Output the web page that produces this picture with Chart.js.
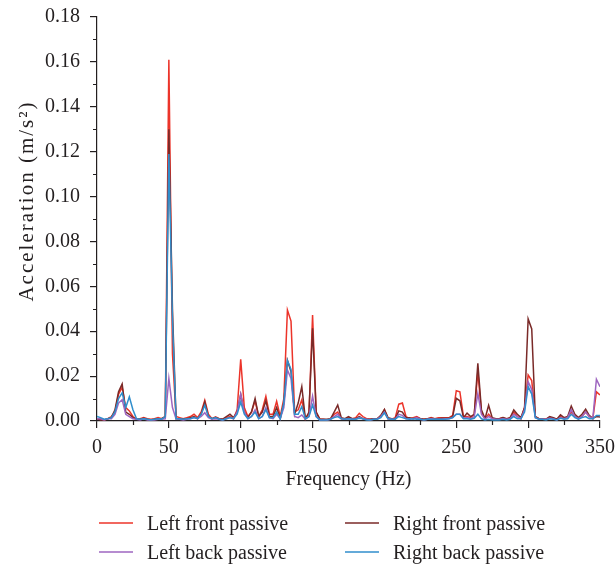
<!DOCTYPE html>
<html>
<head>
<meta charset="utf-8">
<script src="https://cdn.jsdelivr.net/npm/chart.js@4.4.1/dist/chart.umd.min.js"></script>
<style>
  body { margin: 0; background: #fff; }
  #wrap { position: relative; width: 616px; height: 569px; }
  #legend { position: absolute; left: 0; top: 0; width: 616px; height: 569px; pointer-events: none;
            font-family: 'Liberation Serif', serif; font-size: 20px; color: #231f20; }
  .item { position: absolute; white-space: nowrap; line-height: 24px; }
  .item span.line { position: absolute; top: 11px; width: 34px; height: 2px; opacity: 0.75; }
  .item span.txt { position: absolute; left: 48px; top: 0; }
</style>
</head>
<body>
<div id="wrap">
  <canvas id="grafica" width="616" height="569"></canvas>
  <div id="legend"></div>
</div>
<script>
// Espectro de aceleración, suspensión pasiva (4 ruedas)

// eje de frecuencia: paso de 2.5 Hz, 0 a 350 Hz
var frecuencias = Array.from({ length: 141 }, function (_, i) { return i * 2.5; });

var nombres = ['Left front passive', 'Right front passive', 'Left back passive', 'Right back passive'];

var leftFront = [
    .001, .001, .0005, .001, .002, .004, .012, .015, .006, .0045,
    .002, .0008, .001, .0015, .001, .0008, .001, .0015, .001, .002,
    .161, .030, .002, .0015, .001, .0015, .002, .003, .0015, .004,
    .0092, .003, .001, .0018, .001, .0008, .0015, .002, .001, .005,
    .0275, .006, .002, .004, .009, .002, .005, .011, .003, .003,
    .0088, .002, .010, .0495, .0445, .004, .005, .0094, .001, .003,
    .0472, .004, .0008, .0008, .0005, .001, .003, .004, .001, .0008,
    .0015, .001, .0015, .0034, .002, .001, .0008, .001, .001, .002,
    .005, .001, .0008, .0015, .0075, .008, .002, .001, .0015, .002,
    .001, .0008, .001, .0015, .001, .0015, .0015, .0015, .0015, .0025,
    .0135, .013, .002, .002, .0015, .003, .022, .004, .001, .003,
    .001, .0008, .001, .0015, .0008, .0015, .004, .002, .001, .006,
    .0205, .018, .002, .001, .001, .0008, .0015, .0012, .0008, .002,
    .0012, .0015, .004, .002, .001, .002, .004, .002, .001, .013,
    .0116
];

var rightFront = [
    .001, .0005, .0005, .001, .0015, .005, .013, .0165, .004, .003,
    .0015, .0008, .0008, .0012, .0008, .0005, .0008, .001, .001, .002,
    .130, .050, .001, .001, .0008, .001, .0015, .002, .001, .003,
    .0085, .002, .001, .0015, .001, .0008, .002, .003, .0015, .004,
    .0118, .004, .0015, .004, .010, .002, .004, .009, .002, .002,
    .006, .001, .008, .027, .022, .003, .008, .0153, .001, .004,
    .0413, .004, .0008, .0008, .0008, .001, .004, .0071, .0015, .001,
    .002, .001, .001, .002, .001, .0008, .0008, .001, .001, .0025,
    .0052, .0015, .001, .001, .0045, .004, .0015, .0015, .001, .0015,
    .001, .0008, .001, .0012, .001, .001, .0012, .0012, .0012, .002,
    .0101, .009, .0015, .0035, .002, .003, .0257, .005, .001, .007,
    .0015, .001, .001, .0015, .001, .0015, .0049, .003, .0015, .006,
    .0455, .041, .002, .001, .0008, .0008, .002, .0015, .0008, .0028,
    .0015, .002, .0067, .003, .0015, .003, .0053, .0025, .0012, .002,
    .0018
];

var leftBack = [
    .001, .001, .0005, .001, .001, .003, .008, .0095, .003, .002,
    .001, .0008, .0005, .001, .0005, .0005, .0005, .0008, .0008, .001,
    .019, .006, .001, .0008, .0005, .0008, .001, .0015, .001, .002,
    .0037, .0015, .0008, .001, .0008, .0005, .001, .0015, .001, .004,
    .012, .004, .001, .002, .005, .001, .002, .006, .0015, .001,
    .003, .001, .006, .0227, .019, .002, .0015, .0027, .0008, .002,
    .0111, .002, .0005, .0005, .0005, .0008, .002, .003, .001, .0008,
    .001, .0008, .0008, .0015, .001, .0008, .0005, .0008, .0008, .002,
    .004, .001, .0008, .0008, .003, .0025, .001, .001, .001, .0015,
    .0008, .0005, .0008, .001, .0008, .0008, .0008, .001, .001, .0015,
    .003, .003, .0012, .0015, .001, .002, .0123, .003, .0008, .002,
    .001, .0008, .0008, .001, .0008, .001, .003, .002, .001, .005,
    .0175, .014, .0015, .0008, .0008, .0008, .0012, .001, .0005, .0015,
    .001, .0015, .005, .002, .001, .002, .004, .002, .001, .0186,
    .0153
];

var rightBack = [
    .002, .0015, .0008, .001, .0015, .004, .010, .0125, .006, .0108,
    .005, .001, .0008, .001, .0008, .0005, .0008, .001, .0008, .002,
    .119, .045, .001, .001, .0008, .001, .001, .0015, .001, .003,
    .007, .002, .001, .0015, .0008, .0005, .001, .0015, .001, .003,
    .0085, .003, .001, .002, .004, .001, .002, .005, .0015, .0015,
    .004, .001, .008, .027, .023, .003, .003, .0064, .001, .002,
    .0071, .002, .0005, .0005, .0005, .0008, .0015, .002, .001, .0008,
    .001, .0008, .0008, .0012, .001, .0005, .0005, .0008, .0008, .0015,
    .0036, .001, .0008, .0008, .002, .0015, .001, .0008, .001, .0008,
    .0008, .0005, .0008, .0008, .0008, .0008, .0008, .0008, .001, .0015,
    .003, .003, .001, .001, .0008, .0012, .003, .001, .0005, .0008,
    .0005, .0005, .0005, .0008, .0005, .0008, .002, .001, .001, .004,
    .0153, .012, .0015, .0008, .0008, .0005, .001, .0008, .0005, .0012,
    .0008, .001, .003, .0015, .0008, .0015, .002, .001, .001, .0025,
    .0025
];

var colores = ['rgb(236, 52, 42)', 'rgb(122, 42, 40)', 'rgb(158, 102, 192)', 'rgb(48, 142, 204)'];
var fuente = "'Liberation Serif', 'Times New Roman', serif";
var negro = '#231f20';
var tituloY = 'Acceleration (m/s²)';

function puntos(valores) {
    return valores.map(function (v, i) { return { x: frecuencias[i], y: v }; });
}

function getLineDataSet(label, values, color, orden) {
    return {
        label: label,
        data: puntos(values),
        borderColor: color,
        backgroundColor: color,
        borderWidth: 1.5,
        pointRadius: 0,
        tension: 0,
        fill: false,
        order: orden
    };
}

// marcas menores en ambos ejes y titulo del eje Y (con espaciado)
var extras = {
    id: 'extras',
    afterDraw: function (chart) {
        var ctx = chart.ctx;
        var x = chart.scales.x;
        var y = chart.scales.y;
        ctx.save();
        ctx.strokeStyle = negro;
        ctx.lineWidth = 1.2;
        ctx.beginPath();
        for (var f = 25; f < 350; f += 50) {
            var px = Math.round(x.getPixelForValue(f)) + 0.5;
            ctx.moveTo(px, x.top);
            ctx.lineTo(px, x.top + 4);
        }
        for (var a = 1; a < 18; a += 2) {
            var py = Math.round(y.getPixelForValue(a / 100)) + 0.5;
            ctx.moveTo(y.right, py);
            ctx.lineTo(y.right - 4, py);
        }
        ctx.stroke();

        ctx.translate(27, 201);
        ctx.rotate(-Math.PI / 2);
        ctx.font = '21px ' + fuente;
        ctx.fillStyle = negro;
        ctx.textAlign = 'center';
        ctx.textBaseline = 'middle';
        ctx.letterSpacing = '2px';
        ctx.fillText(tituloY, 0, 0);
        ctx.restore();
    }
};

var datasets = [];
datasets.push(getLineDataSet(nombres[0], leftFront, colores[0], 4));
datasets.push(getLineDataSet(nombres[1], rightFront, colores[1], 3));
datasets.push(getLineDataSet(nombres[2], leftBack, colores[2], 2));
datasets.push(getLineDataSet(nombres[3], rightBack, colores[3], 1));

var chart = new Chart(document.getElementById('grafica').getContext('2d'), {
    type: 'line',
    data: { datasets: datasets },
    plugins: [extras],
    options: {
        responsive: false,
        animation: false,
        layout: { padding: { left: 0, right: 16, top: 17, bottom: 77 } },
        plugins: { legend: { display: false }, tooltip: { enabled: false } },
        scales: {
            x: {
                type: 'linear',
                min: 0,
                max: 350,
                border: { color: negro, width: 1.2 },
                grid: { drawOnChartArea: false, drawTicks: true, tickLength: 7, color: negro, lineWidth: 1.2 },
                ticks: { stepSize: 50, padding: 8, color: negro, font: { family: fuente, size: 20 }, maxRotation: 0 },
                title: { display: true, text: 'Frequency (Hz)', color: negro, font: { family: fuente, size: 20 }, padding: 0 },
                afterFit: function (s) { s.height = 71; s.paddingLeft = 0; s.paddingRight = 0; }
            },
            y: {
                min: 0,
                max: 0.18,
                border: { color: negro, width: 1.2 },
                grid: { drawOnChartArea: false, drawTicks: true, tickLength: 7, color: negro, lineWidth: 1.2 },
                ticks: {
                    stepSize: 0.02, padding: 10, color: negro, font: { family: fuente, size: 20 },
                    callback: function (v) { return v.toFixed(2); }
                },
                title: { display: false },
                afterFit: function (s) { s.width = 97; s.paddingTop = 0; s.paddingBottom = 0; }
            }
        }
    }
});

// leyenda en dos columnas debajo del eje
var posiciones = [[99, 511], [345, 511], [99, 540], [345, 540]];
var legend = document.getElementById('legend');
for (var i = 0; i < nombres.length; i++) {
    var item = document.createElement('div');
    item.className = 'item';
    item.style.left = posiciones[i][0] + 'px';
    item.style.top = posiciones[i][1] + 'px';
    item.innerHTML = '<span class="line" style="background:' + colores[i] + '"></span>' +
        '<span class="txt">' + nombres[i] + '</span>';
    legend.appendChild(item);
}
</script>
</body>
</html>
